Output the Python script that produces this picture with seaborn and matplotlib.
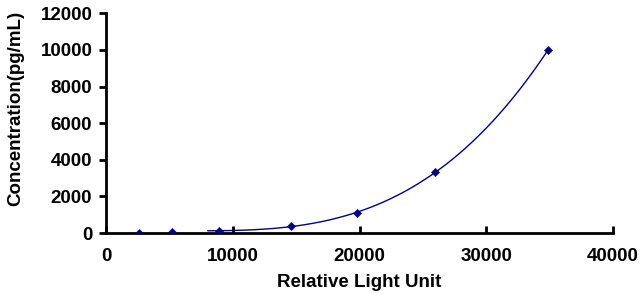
import numpy as np
import pandas as pd
import matplotlib
matplotlib.use("Agg")
import matplotlib.pyplot as plt
import seaborn as sns

# data
rlu = [2600, 5200, 8900, 14600, 19770, 25980, 34870]
conc = [0, 41, 123, 370, 1111, 3333, 10000]

x_ticks = [0, 10000, 20000, 30000, 40000]
y_ticks = [0, 2000, 4000, 6000, 8000, 10000, 12000]

df = pd.DataFrame({"rlu": rlu, "conc": conc})

sns.set_style("white")
plt.rcParams['font.family'] = ['Liberation Sans', 'DejaVu Sans']
plt.rcParams['text.color'] = 'black'
plt.rcParams['axes.labelcolor'] = 'black'
plt.rcParams['xtick.color'] = 'black'
plt.rcParams['ytick.color'] = 'black'

fig, ax = plt.subplots(figsize=(6.44, 2.95), dpi=100)
fig.subplots_adjust(left=0.165, right=0.952, top=0.955, bottom=0.21)

# smooth fitted curve through the upper standards
coef = np.polyfit(df["rlu"][2:], df["conc"][2:], 3)
xs = np.linspace(8000, rlu[-1], 200)
fit = pd.DataFrame({"rlu": xs, "conc": np.polyval(coef, xs)})
sns.lineplot(data=fit, x="rlu", y="conc", ax=ax, color="#000080", linewidth=1)

sns.scatterplot(data=df, x="rlu", y="conc", ax=ax, marker="D", s=18,
                color="#000080", edgecolor="#000080", zorder=3)

ax.set_xlim(0, 40000)
ax.set_ylim(0, 12000)
ax.set_xticks(x_ticks)
ax.set_yticks(y_ticks)
ax.set_xlabel("Relative Light Unit", fontsize=13.5, fontweight="bold", labelpad=6)
ax.set_ylabel("Concentration(pg/mL)", fontsize=13.5, fontweight="bold")
ax.yaxis.set_label_coords(-0.162, 0.565)
for lab in ax.get_xticklabels() + ax.get_yticklabels():
    lab.set_fontweight("bold")
ax.tick_params(axis="x", direction="in", length=5, width=2, labelsize=13.5, pad=11)
ax.tick_params(axis="y", direction="out", length=5, width=2, labelsize=13.5, pad=5)
ax.xaxis.set_ticks_position("bottom")
ax.yaxis.set_ticks_position("left")

sns.despine(ax=ax)
for s in ["left", "bottom"]:
    ax.spines[s].set_linewidth(2)
    ax.spines[s].set_color("black")

fig.savefig("out.png", dpi=100)
